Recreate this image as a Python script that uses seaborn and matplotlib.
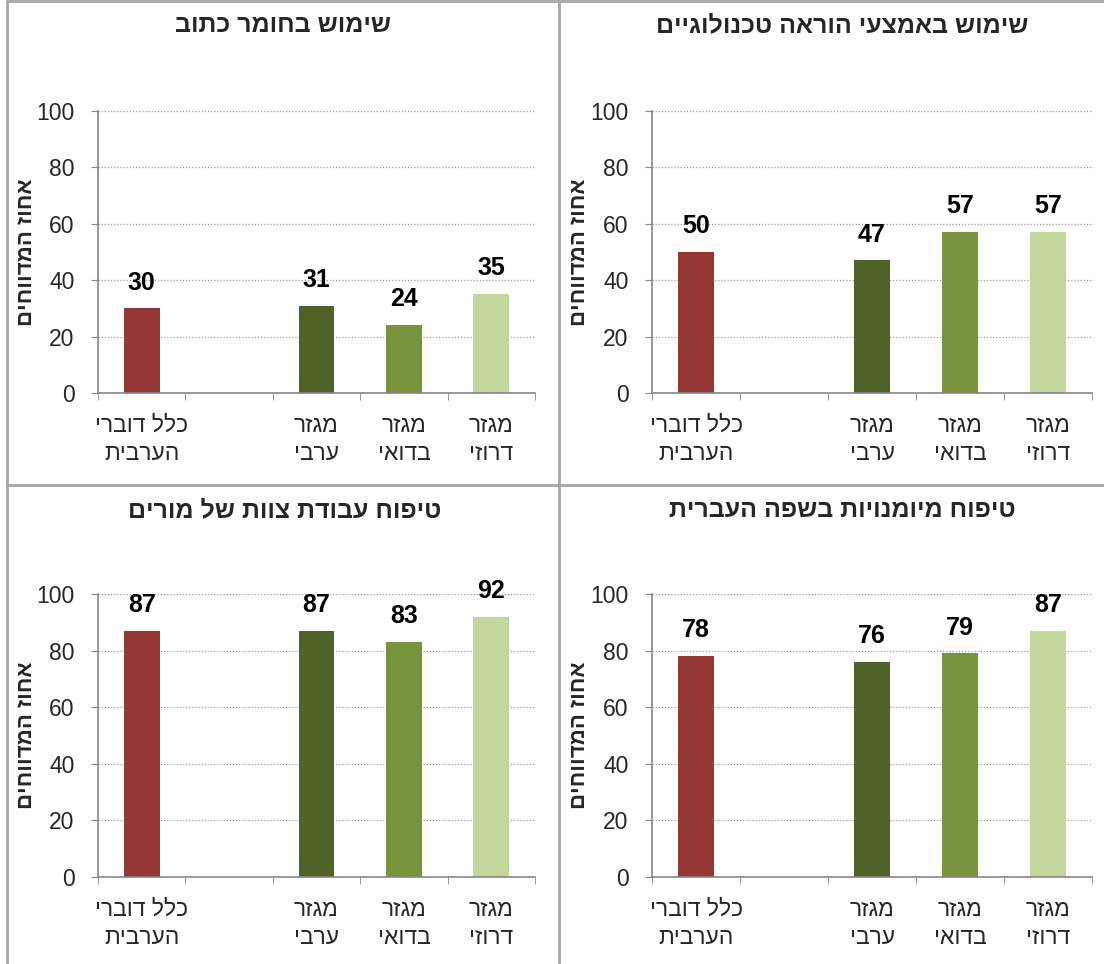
import pandas as pd
import seaborn as sns
import matplotlib.pyplot as plt
from matplotlib.lines import Line2D

# ---- data (Hebrew text in logical order; reversed for display below) ----
categories = ["כלל דוברי\nהערבית", "", "מגזר\nערבי", "מגזר\nבדואי", "מגזר\nדרוזי"]
bar_colors = ["#953735", "#ffffff", "#4f6228", "#77933c", "#c3d69b"]

titles = ["שימוש בחומר כתוב",
          "שימוש באמצעי הוראה טכנולוגיים",
          "טיפוח עבודת צוות של מורים",
          "טיפוח מיומנויות בשפה העברית"]

written_material = [30, None, 31, 24, 35]
tech_means = [50, None, 47, 57, 57]
team_work = [87, None, 87, 83, 92]
hebrew_skills = [78, None, 76, 79, 87]

ylabel = "אחוז המדווחים"


def rtl(s):
    # matplotlib has no bidi support: flip each line for visual order
    return "\n".join(line[::-1] for line in s.split("\n"))


sns.set_style("white")
plt.rcParams["font.family"] = ["Liberation Sans", "DejaVu Sans"]

fig = plt.figure(figsize=(11.04, 9.64), dpi=100)
W, H = 1104, 964

# axes boxes in pixels: (left, right, top, bottom)
boxes = [(98, 535, 111, 393), (652, 1092, 111, 393),
         (98, 535, 594, 877), (652, 1092, 594, 877)]
title_xy = [(283, 25), (842, 25), (285, 510), (842, 510)]
series = [written_material, tech_means, team_work, hebrew_skills]

keys = [f"c{i}" for i in range(len(categories))]
grey = "#868686"

for (l, r, t, b), vals, title, (tx, ty) in zip(boxes, series, titles, title_xy):
    ax = fig.add_axes([l / W, 1 - b / H, (r - l) / W, (b - t) / H])
    df = pd.DataFrame({"cat": keys, "pct": vals}).dropna()
    sns.barplot(data=df, x="cat", y="pct", hue="cat", order=keys,
                palette=dict(zip(keys, bar_colors)), width=0.41,
                legend=False, ax=ax, saturation=1, edgecolor="none")
    for cont in ax.containers:
        ax.bar_label(cont, fmt="%.0f", padding=10, fontsize=18,
                     fontweight="bold", color="black")

    ax.set_ylim(0, 100)
    ax.set_xlim(-0.5, len(keys) - 0.5)
    ax.set_yticks(range(0, 101, 20))
    ax.tick_params(axis="y", labelsize=16.5, length=5, color=grey,
                   direction="out", left=True, pad=12)
    ax.yaxis.grid(True, linestyle=(0, (1, 1.5)), color="#9a9a9a", linewidth=0.9)
    ax.set_axisbelow(True)

    shown = [i for i, c in enumerate(categories) if c]
    ax.set_xticks(shown)
    ax.set_xticklabels([rtl(categories[i]) for i in shown], fontsize=16.5,
                       linespacing=1.3)
    ax.set_xticks([i - 0.5 for i in range(len(keys) + 1)], minor=True)
    ax.tick_params(axis="x", which="major", length=0, pad=15)
    ax.tick_params(axis="x", which="minor", length=5, color=grey,
                   direction="out", bottom=True)

    for side in ["top", "right"]:
        ax.spines[side].set_visible(False)
    for side in ["left", "bottom"]:
        ax.spines[side].set_color(grey)
        ax.spines[side].set_linewidth(1.2)

    ax.set_xlabel("")
    ax.set_ylabel(rtl(ylabel), fontsize=16, fontweight="bold")
    ax.yaxis.set_label_coords(-0.14, 0.5)

    fig.text(tx / W, 1 - ty / H, rtl(title), ha="center", va="center",
             fontsize=18, fontweight="bold")

# panel frame lines
frame = "#a6a6a6"
for xs, ys in [((7, 7), (1, H)), ((7, W), (1, 1)),
               ((559, 559), (1, H)), ((7, W), (485, 485))]:
    fig.add_artist(Line2D([x / W for x in xs], [1 - y / H for y in ys],
                          color=frame, linewidth=2))

fig.savefig("out.png", dpi=100)
